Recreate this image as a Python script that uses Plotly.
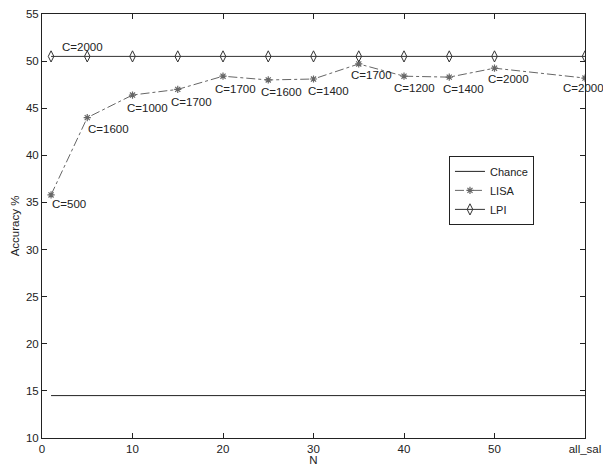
import plotly.graph_objects as go

N = [1, 5, 10, 15, 20, 25, 30, 35, 40, 45, 50, 60]
chance = [14.5] * len(N)
lisa = [35.8, 44.0, 46.4, 47.0, 48.4, 48.0, 48.1, 49.7, 48.4, 48.3, 49.25, 48.2]
lpi = [50.5] * len(N)
lisa_labels = ["C=500", "C=1600", "C=1000", "C=1700", "C=1700", "C=1600",
               "C=1400", "C=1700", "C=1200", "C=1400", "C=2000", "C=2000"]
lpi_label = "C=2000"
xtick_vals = [0, 10, 20, 30, 40, 50, 60]
xtick_text = ["0", "10", "20", "30", "40", "50", "all_sal"]
ytick_vals = [10, 15, 20, 25, 30, 35, 40, 45, 50, 55]

# label offsets in pixels (style)
lbl_dx = [-1, -1, -8, -9, -10, -9, -8, -10, -12, -8, -9, -24]
lbl_dy = [-9, -11, -13, -13, -13, -12, -12, -11, -12, -12, -11, -10]

font = dict(family="Liberation Sans, Arial, sans-serif", size=11.5, color="#222")
tfont = dict(family="Liberation Sans, Arial, sans-serif", size=11.5, color="#222")
lfont = dict(family="Liberation Sans, Arial, sans-serif", size=11, color="#222")

fig = go.Figure()
fig.add_trace(go.Scatter(x=N, y=chance, mode="lines", name="Chance",
                         line=dict(color="#222", width=1)))
fig.add_trace(go.Scatter(x=N, y=lisa, mode="lines+markers", name="LISA",
                         line=dict(color="#666", width=1, dash="dashdot"),
                         marker=dict(symbol="asterisk-open", size=6,
                                     line=dict(color="#111", width=1.2))))
fig.add_trace(go.Scatter(x=N, y=lpi, mode="lines+markers", name="LPI",
                         line=dict(color="#333", width=1),
                         marker=dict(symbol="diamond-tall-open", size=8, color="#333",
                                     line=dict(color="#333", width=1))))

for xi, yi, t, dx, dy in zip(N, lisa, lisa_labels, lbl_dx, lbl_dy):
    fig.add_annotation(x=xi, y=yi, text=t, showarrow=False, xanchor="left",
                       yanchor="middle", xshift=dx, yshift=dy, font=font)
fig.add_annotation(x=N[0], y=lpi[0], text=lpi_label, showarrow=False,
                   xanchor="left", yanchor="middle", xshift=9, yshift=9, font=font)

axis_common = dict(showline=True, linecolor="#222", linewidth=1, mirror="ticks",
                   ticks="inside", ticklen=5, tickcolor="#222", showgrid=False,
                   zeroline=False, tickfont=tfont, automargin=False,
                   ticklabeloverflow="allow")
fig.update_xaxes(range=[0, 60], tickvals=xtick_vals, ticktext=xtick_text,
                 title=dict(text="N", font=font, standoff=2), **axis_common)
fig.update_yaxes(range=[10, 55], tickvals=ytick_vals,
                 title=dict(text="Accuracy %", font=font, standoff=3), **axis_common)

fig.update_layout(
    width=603, height=466,
    margin=dict(l=42, r=18, t=14, b=28),
    plot_bgcolor="white", paper_bgcolor="white",
    font=font,
    legend=dict(x=0.7495, y=0.584, xanchor="left", yanchor="middle",
                bgcolor="white", bordercolor="#222", borderwidth=1,
                font=lfont, tracegroupgap=0, itemwidth=30),
    showlegend=True,
)

fig.write_html("out.html", config={"displayModeBar": False},
               post_script="document.body.style.margin='0';document.body.style.overflow='hidden';")
